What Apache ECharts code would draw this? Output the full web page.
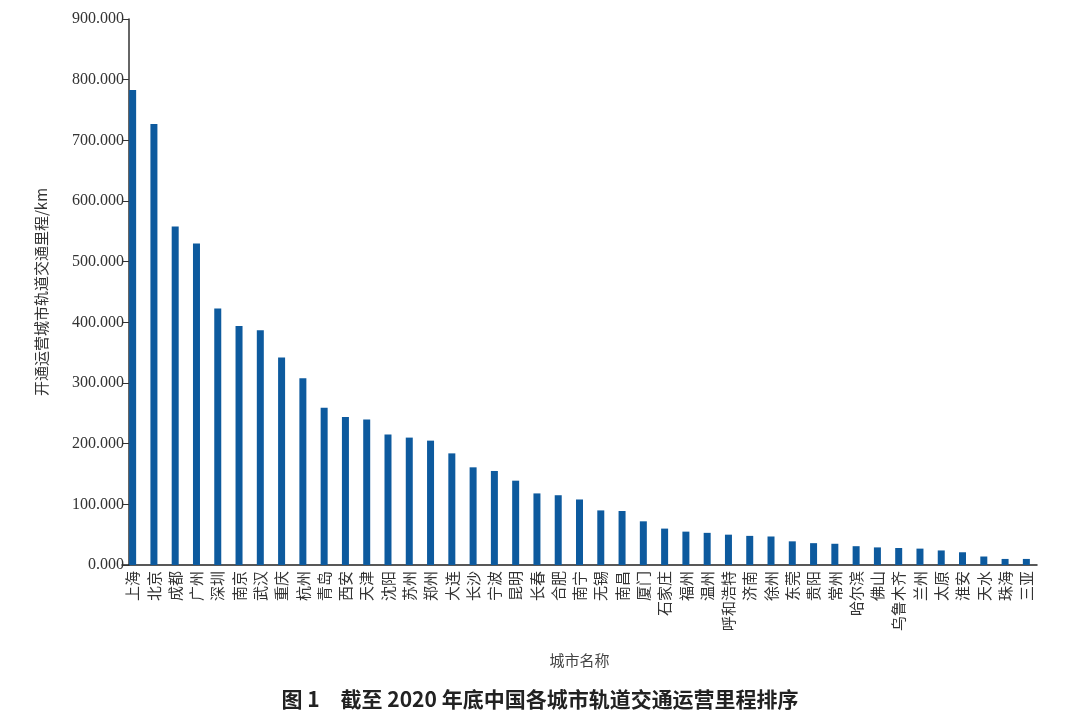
<!DOCTYPE html>
<html>
<head>
<meta charset="utf-8">
<script src="https://cdn.jsdelivr.net/npm/echarts@6/dist/echarts.min.js"></script>
<style>
  html, body { margin: 0; padding: 0; background: #fff; }
  #chart { width: 1080px; height: 718px; }
</style>
</head>
<body>
<div id="chart"></div>
<script>
// 城市名称
var cities = ['上海', '北京', '成都', '广州', '深圳', '南京', '武汉', '重庆', '杭州', '青岛',
  '西安', '天津', '沈阳', '苏州', '郑州', '大连', '长沙', '宁波', '昆明', '长春',
  '合肥', '南宁', '无锡', '南昌', '厦门', '石家庄', '福州', '温州', '呼和浩特', '济南',
  '徐州', '东莞', '贵阳', '常州', '哈尔滨', '佛山', '乌鲁木齐', '兰州', '太原', '淮安',
  '天水', '珠海', '三亚'];
// 运营里程 km
var mileage = [783, 727, 558, 530, 423, 394, 387, 342, 308, 259,
  244, 240, 215, 210, 205, 184, 161, 155, 139, 118,
  115, 108, 90, 89, 72, 60, 55, 53, 50, 48,
  47, 39, 36, 35, 31, 29, 28, 27, 24, 21,
  14, 10, 10];
var yTicks = { min: 0, max: 900, interval: 100 };

(function() {
  var myChart = echarts.init(document.getElementById('chart'));
  var option = {
    animation: false,
    title: {
      text: '图 1　截至 2020 年底中国各城市轨道交通运营里程排序',
      left: 'center',
      top: 684,
      textStyle: {
        fontFamily: 'Noto Sans CJK SC',
        fontSize: 21,
        fontWeight: 'bold',
        color: '#222'
      }
    },
    grid: {
      left: 122,
      right: 43,
      top: 19,
      bottom: 153
    },
    xAxis: {
      type: 'category',
      data: cities,
      name: '城市名称',
      nameLocation: 'middle',
      nameGap: 88,
      nameTextStyle: {
        fontFamily: 'Noto Sans CJK SC',
        fontSize: 15,
        color: '#444'
      },
      axisLine: { lineStyle: { color: '#222', width: 1.5 } },
      axisTick: { show: false },
      axisLabel: {
        rotate: 90,
        interval: 0,
        margin: 6,
        fontFamily: 'Noto Sans CJK SC',
        fontSize: 15,
        color: '#333'
      }
    },
    yAxis: {
      type: 'value',
      min: yTicks.min,
      max: yTicks.max,
      interval: yTicks.interval,
      offset: -7,
      name: '开通运营城市轨道交通里程/km',
      nameLocation: 'middle',
      nameGap: 80,
      nameTextStyle: {
        fontFamily: 'Noto Sans CJK SC',
        fontSize: 15,
        color: '#333'
      },
      axisLine: { show: true, lineStyle: { color: '#333', width: 1.5 } },
      axisTick: { show: true, length: 6, lineStyle: { color: '#333' } },
      splitLine: { show: false },
      axisLabel: {
        margin: 5,
        fontFamily: 'Liberation Serif',
        fontSize: 16,
        color: '#333',
        formatter: function(v) { return v.toFixed(3); }
      }
    },
    series: [
      {
        name: '运营里程',
        type: 'bar',
        data: mileage,
        barWidth: 7,
        itemStyle: { color: '#0d5a9e' }
      }
    ]
  };
  myChart.setOption(option);
  window.addEventListener('resize', function() {
    myChart.resize();
  });
})();
</script>
</body>
</html>
